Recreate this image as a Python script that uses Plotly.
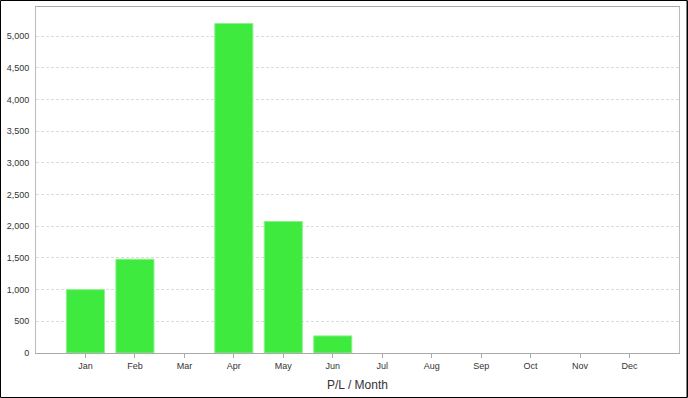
import plotly.graph_objects as go

months = ["Jan", "Feb", "Mar", "Apr", "May", "Jun", "Jul", "Aug", "Sep", "Oct", "Nov", "Dec"]
values = [1000, 1480, 0, 5200, 2075, 270, 0, 0, 0, 0, 0, 0]
y_ticks = [0, 500, 1000, 1500, 2000, 2500, 3000, 3500, 4000, 4500, 5000]

W, H = 688, 398
L, R, T, B = 36, 9, 7, 45
pw, ph = W - L - R, H - T - B

fig = go.Figure(go.Bar(
    x=list(range(len(months))), y=values,
    width=0.77,
    marker=dict(color="#3FEA3F",
                line=dict(color="#8CF08C", width=[1 if v > 0 else 0 for v in values])),
))

fig.update_layout(
    width=W, height=H,
    margin=dict(l=L, r=R, t=T, b=B),
    paper_bgcolor="white", plot_bgcolor="white",
    showlegend=False,
    font=dict(family="Liberation Sans, Arial, sans-serif", size=9, color="#333"),
    xaxis=dict(
        range=[-1, 12], tickmode="array", tickvals=list(range(len(months))), ticktext=months,
        showgrid=False, zeroline=False,
        showline=True, linecolor="#aaaaaa", linewidth=1, mirror=True,
        ticks="outside", ticklen=4, tickcolor="#aaaaaa",
        title=dict(text="P/L / Month", font=dict(size=12, color="#333"), standoff=10),
    ),
    yaxis=dict(
        range=[0, 5460], tickvals=y_ticks, tickformat=",",
        showgrid=True, gridcolor="#dcdcdc", griddash="3px,2px", gridwidth=1,
        zeroline=False,
        showline=True, linecolor="#bbbbbb", linewidth=1, mirror=True,
        ticks="", ticklabelstandoff=4,
    ),
    shapes=[dict(
        type="rect", xref="paper", yref="paper",
        x0=(0.5 - L) / pw, x1=(W - 1 - L) / pw,
        y0=-(B - 0.5) / ph, y1=(H - 0.5 - B) / ph,
        line=dict(color="black", width=1), fillcolor="rgba(0,0,0,0)", layer="above",
    ), dict(
        type="line", xref="paper", yref="paper",
        x0=(W - 0.5 - L) / pw, x1=(W - 0.5 - L) / pw,
        y0=-(B - 0.5) / ph, y1=(H - 0.5 - B) / ph,
        line=dict(color="black", width=1), layer="above",
    )],
)

fig.write_html("out.html")
